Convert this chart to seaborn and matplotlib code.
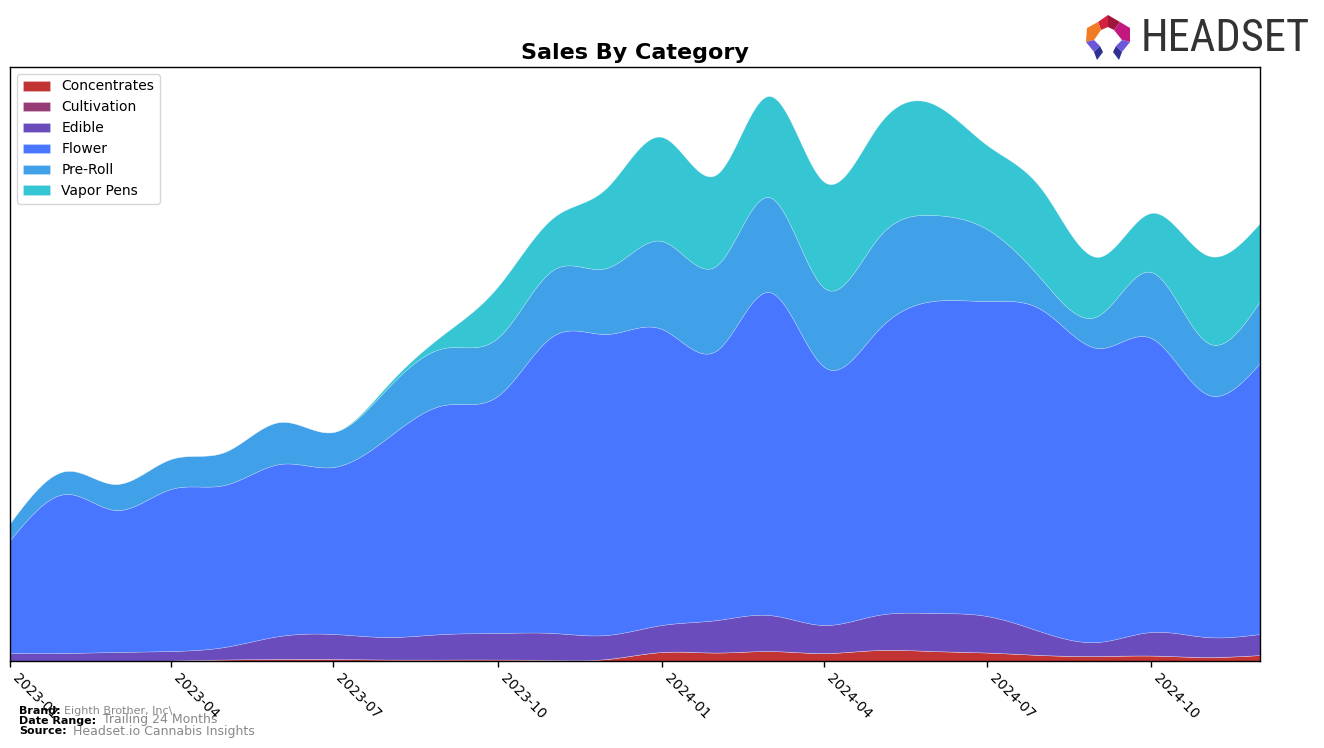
import numpy as np
import pandas as pd
import matplotlib
matplotlib.use("Agg")
import matplotlib.pyplot as plt
import matplotlib.dates as mdates
from matplotlib.patches import Polygon
import seaborn as sns

# ---------------- data ----------------
months = pd.date_range("2023-01-01", "2024-12-01", freq="MS")
categories = ["Concentrates", "Cultivation", "Edible", "Flower", "Pre-Roll", "Vapor Pens"]

concentrates = [0, 0, 0, 0.5, 1.5, 2, 2, 1.5, 1.5, 1.5, 1, 2,
                9, 8.5, 10, 8, 11, 10, 8.5, 6, 5, 5.5, 4, 6]
cultivation = [0] * 24
edible = [8, 8, 9, 9.5, 12.5, 23, 25, 22.5, 25.5, 26.5, 27, 24,
          27, 32.5, 36, 28, 35, 38, 36.5, 23, 14, 23.5, 20, 21]
flower = [113, 159, 142, 162, 162, 172, 167, 200, 229, 237, 297, 301,
          296, 270, 323, 258, 285, 312, 315, 322, 294, 294, 243, 271]
preroll = [17, 23, 26, 30, 33, 42, 35, 50, 57, 58, 66, 66,
           88, 85, 95, 79, 92, 86, 72, 30, 32, 66, 52, 62]
vapor = [0, 0, 0, 0, 0, 0, 0, 3, 14, 51, 52, 80,
         104, 91, 101, 106, 112, 111, 84, 90, 59, 59, 87, 78]

colors = ["#C23434", "#963D78", "#6A4CBC", "#4876FF", "#40A0E8", "#35C5D3"]
tick_months = ["2023-01", "2023-04", "2023-07", "2023-10",
               "2024-01", "2024-04", "2024-07", "2024-10"]


def natural_spline(x, y, xf):
    x = np.asarray(x, float)
    y = np.asarray(y, float)
    n = len(x)
    h = np.diff(x)
    A = np.zeros((n, n))
    b = np.zeros(n)
    A[0, 0] = 1
    A[-1, -1] = 1
    for i in range(1, n - 1):
        A[i, i - 1] = h[i - 1]
        A[i, i] = 2 * (h[i - 1] + h[i])
        A[i, i + 1] = h[i]
        b[i] = 3 * ((y[i + 1] - y[i]) / h[i] - (y[i] - y[i - 1]) / h[i - 1])
    c = np.linalg.solve(A, b)
    bb = (y[1:] - y[:-1]) / h - h * (2 * c[:-1] + c[1:]) / 3
    d = (c[1:] - c[:-1]) / (3 * h)
    idx = np.clip(np.searchsorted(x, xf) - 1, 0, n - 2)
    dx = xf - x[idx]
    return y[idx] + bb[idx] * dx + c[idx] * dx ** 2 + d[idx] * dx ** 3


sns.set_style("ticks")
plt.rcParams["font.family"] = ["DejaVu Sans"]
plt.rcParams["text.color"] = "black"
plt.rcParams["xtick.color"] = "black"
plt.rcParams["axes.labelcolor"] = "black"
plt.rcParams["axes.edgecolor"] = "black"

fig = plt.figure(figsize=(13.24, 7.48), dpi=100)
ax = fig.add_axes([10 / 1324, 87 / 748, 1250 / 1324, 594 / 748])

xn = mdates.date2num(months.to_pydatetime())
xf = np.linspace(xn[0], xn[-1], 600)
series = [concentrates, cultivation, edible, flower, preroll, vapor]
smooth = [np.clip(natural_spline(xn, s, xf), 0, None) for s in series]

ax.stackplot(xf, *smooth, labels=categories, colors=colors, linewidth=0.4,
             edgecolor=(1, 1, 1, 0.35))

ax.set_xlim(xn[0], xn[-1])
ax.set_ylim(0, 594)
ticks = mdates.date2num(pd.to_datetime(tick_months).to_pydatetime())
ax.set_xticks(ticks)
ax.set_xticklabels(tick_months, rotation=-45, ha="left", fontsize=10, color="black")
ax.set_yticks([])
ax.tick_params(axis="x", direction="out", length=4, width=1, colors="black")
for sp in ax.spines.values():
    sp.set_visible(True)
    sp.set_color("black")
    sp.set_linewidth(1)

ax.set_title("Sales By Category", fontsize=16, fontweight="bold", pad=6, color="black")

leg = ax.legend(loc="upper left", fontsize=10, frameon=True)
leg.get_frame().set_edgecolor("#cccccc")
for t in leg.get_texts():
    t.set_color("black")

# footer
fig.text(19 / 1324, 1 - 711 / 748, "Brand:", fontsize=8, fontweight="bold", va="center")
fig.text(64 / 1324, 1 - 711 / 748, "Eighth Brother, Inc\\.", fontsize=8, color="#888888", va="center")
fig.text(19 / 1324, 1 - 721 / 748, "Date Range:", fontsize=8, fontweight="bold", va="center")
fig.text(103 / 1324, 1 - 720 / 748, "Trailing 24 Months", fontsize=9, color="#888888", va="center")
fig.text(19 / 1324, 1 - 731 / 748, "Source:", fontsize=8, fontweight="bold", va="center")
fig.text(73 / 1324, 1 - 731 / 748, "Headset.io Cannabis Insights", fontsize=9, color="#888888", va="center")

# Headset logo
fig.text(1141 / 1324, 1 - 39 / 748, "HEADSET", fontsize=32,
         family=["Liberation Sans Narrow", "Roboto Condensed", "DejaVu Sans"],
         color="#333333", va="center", ha="left")


def P(pts, color):
    fig.patches.append(Polygon([(x / 1324, 1 - y / 748) for x, y in pts], closed=True,
                               transform=fig.transFigure, facecolor=color, edgecolor="none"))


P([(1098, 22), (1108, 15), (1108, 27), (1101, 30)], "#D4213D")
P([(1108, 15), (1120, 22), (1114, 30), (1108, 27)], "#A0163A")
P([(1120, 22), (1130, 28), (1130, 42), (1122, 40), (1114, 30)], "#C2197E")
P([(1098, 22), (1101, 30), (1094, 40), (1086, 42), (1087, 28)], "#F07B24")
P([(1086, 42), (1094, 40), (1100, 46), (1094, 52)], "#6B58D8")
P([(1094, 52), (1100, 46), (1103, 52), (1097, 60)], "#2E3192")
P([(1130, 42), (1122, 40), (1116, 46), (1122, 52)], "#6B58D8")
P([(1122, 52), (1116, 46), (1113, 52), (1119, 60)], "#2E3192")

fig.savefig("out.png", dpi=100)
